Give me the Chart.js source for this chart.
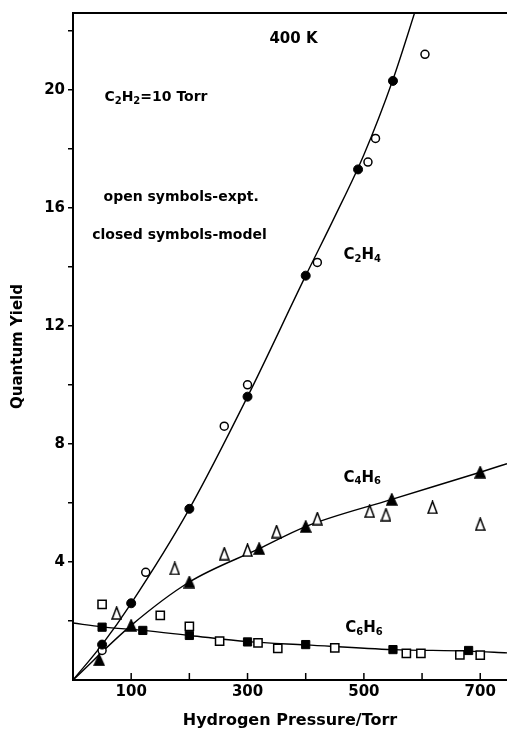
<!DOCTYPE html>
<html>
<head>
<meta charset="utf-8">
<script src="https://cdn.jsdelivr.net/npm/chart.js@4.4.1/dist/chart.umd.min.js"></script>
<style>
  html, body { margin: 0; padding: 0; background: #fff; overflow: hidden; }
  canvas { display: block; }
</style>
</head>
<body>
<canvas id="chart" width="507" height="730"></canvas>
<script>
// C2H4 - model (closed circles) and experiment (open circles)
const c2h4ModelX = [50, 100, 200, 300, 400, 490, 550];
const c2h4ModelY = [1.2, 2.6, 5.8, 9.6, 13.7, 17.3, 20.3];
const c2h4ExptX = [50, 125, 260, 300, 420, 507, 520, 605];
const c2h4ExptY = [1.0, 3.65, 8.6, 10.0, 14.15, 17.55, 18.35, 21.2];
const c2h4CurveX = [0, 50, 100, 200, 300, 400, 450, 500, 550, 592];
const c2h4CurveY = [0, 1.2, 2.6, 5.8, 9.6, 13.7, 15.7, 17.8, 20.35, 22.9];

// C4H6 - triangles
const c4h6ModelX = [45, 100, 200, 320, 400, 548, 700];
const c4h6ModelY = [0.68, 1.85, 3.32, 4.45, 5.2, 6.12, 7.04];
const c4h6ExptX = [75, 175, 260, 300, 350, 420, 510, 538, 618, 700];
const c4h6ExptY = [2.27, 3.78, 4.28, 4.4, 5.03, 5.47, 5.72, 5.6, 5.85, 5.28];
const c4h6CurveX = [0, 100, 200, 320, 400, 548, 700, 746];
const c4h6CurveY = [0, 1.85, 3.32, 4.45, 5.2, 6.12, 7.04, 7.33];

// C6H6 - squares
const c6h6ModelX = [50, 120, 200, 300, 400, 550, 680];
const c6h6ModelY = [1.79, 1.68, 1.51, 1.29, 1.2, 1.03, 1.0];
const c6h6ExptX = [50, 150, 200, 252, 318, 352, 450, 573, 598, 665, 700];
const c6h6ExptY = [2.56, 2.19, 1.82, 1.32, 1.26, 1.07, 1.09, 0.9, 0.9, 0.85, 0.84];
const c6h6CurveX = [0, 50, 120, 200, 300, 400, 550, 680, 746];
const c6h6CurveY = [1.93, 1.8, 1.68, 1.51, 1.3, 1.19, 1.03, 0.98, 0.92];

// axes
const xTickValues = [100, 200, 300, 400, 500, 600, 700];
const xLabelValues = [100, 300, 500, 700];
const yTickValues = [2, 4, 6, 8, 10, 12, 14, 16, 18, 20, 22];
const yLabelValues = [4, 8, 12, 16, 20];

const FONT = "'DejaVu Sans', sans-serif";

const toPts = (xs, ys) => xs.map((v, i) => ({ x: v, y: ys[i] }));

function triangle(w, h, filled) {
  const c = document.createElement('canvas');
  c.width = w + 2; c.height = h + 2;
  const g = c.getContext('2d');
  g.beginPath();
  g.moveTo(c.width / 2, 1);
  g.lineTo(c.width - 1, c.height - 1);
  g.lineTo(1, c.height - 1);
  g.closePath();
  g.fillStyle = filled ? '#000' : '#fff';
  g.fill();
  g.lineWidth = 1.5;
  g.strokeStyle = '#000';
  g.stroke();
  return c;
}
const openTri = triangle(9, 12, false);
const fullTri = triangle(10, 11, true);

// text written inside the plot (data coordinates, left edge)
const notes = [
  { parts: [['400 K', 0]], x: 379, y: 21.7, size: 15, align: 'center' },
  { parts: [['C', 0], ['2', 1], ['H', 0], ['2', 1], ['=10 Torr', 0]], x: 54, y: 19.75, size: 14 },
  { parts: [['open symbols-expt.', 0]], x: 52.5, y: 16.35, size: 14 },
  { parts: [['closed symbols-model', 0]], x: 33, y: 15.05, size: 14 },
  { parts: [['C', 0], ['2', 1], ['H', 0], ['4', 1]], x: 465, y: 14.4, size: 15 },
  { parts: [['C', 0], ['4', 1], ['H', 0], ['6', 1]], x: 465, y: 6.85, size: 15 },
  { parts: [['C', 0], ['6', 1], ['H', 0], ['6', 1]], x: 468, y: 1.75, size: 15 },
];

const frameAndNotes = {
  id: 'frameAndNotes',
  afterDatasetsDraw(chart) {
    const { ctx, chartArea: a, scales: { x, y } } = chart;
    ctx.save();
    ctx.strokeStyle = '#000';
    // top border
    ctx.lineWidth = 2;
    ctx.beginPath();
    ctx.moveTo(a.left, a.top);
    ctx.lineTo(a.right, a.top);
    ctx.stroke();
    // x ticks point inward
    ctx.lineWidth = 1.5;
    xTickValues.forEach(v => {
      const px = x.getPixelForValue(v);
      ctx.beginPath();
      ctx.moveTo(px, a.bottom);
      ctx.lineTo(px, a.bottom - 7);
      ctx.stroke();
    });
    // notes
    ctx.fillStyle = '#000';
    ctx.textBaseline = 'middle';
    ctx.textAlign = 'left';
    notes.forEach(n => {
      const sub = Math.round(n.size * 0.68);
      let w = 0;
      n.parts.forEach(([t, s]) => {
        ctx.font = 'bold ' + (s ? sub : n.size) + 'px ' + FONT;
        w += ctx.measureText(t).width;
      });
      let px = x.getPixelForValue(n.x);
      if (n.align === 'center') px -= w / 2;
      const py = y.getPixelForValue(n.y);
      n.parts.forEach(([t, s]) => {
        ctx.font = 'bold ' + (s ? sub : n.size) + 'px ' + FONT;
        ctx.fillText(t, px, s ? py + 4 : py);
        px += ctx.measureText(t).width;
      });
    });
    ctx.restore();
  }
};

const curve = (xs, ys) => ({
  type: 'line',
  data: toPts(xs, ys),
  borderColor: '#000',
  borderWidth: 1.4,
  pointRadius: 0,
  cubicInterpolationMode: 'monotone',
  fill: false,
  order: 3,
});

new Chart(document.getElementById('chart'), {
  type: 'scatter',
  data: {
    datasets: [
      curve(c2h4CurveX, c2h4CurveY),
      curve(c4h6CurveX, c4h6CurveY),
      curve(c6h6CurveX, c6h6CurveY),
      // experiment, open symbols
      { data: toPts(c2h4ExptX, c2h4ExptY), pointStyle: 'circle', pointRadius: 4,
        backgroundColor: '#fff', borderColor: '#000', borderWidth: 1.5, order: 2 },
      { data: toPts(c4h6ExptX, c4h6ExptY), pointStyle: openTri, order: 2 },
      { data: toPts(c6h6ExptX, c6h6ExptY), pointStyle: 'rect', pointRadius: 5.8,
        backgroundColor: '#fff', borderColor: '#000', borderWidth: 1.5, order: 2 },
      // model, closed symbols
      { data: toPts(c2h4ModelX, c2h4ModelY), pointStyle: 'circle', pointRadius: 4.5,
        backgroundColor: '#000', borderColor: '#000', borderWidth: 1, order: 1 },
      { data: toPts(c4h6ModelX, c4h6ModelY), pointStyle: fullTri, order: 1 },
      { data: toPts(c6h6ModelX, c6h6ModelY), pointStyle: 'rect', pointRadius: 5.8,
        backgroundColor: '#000', borderColor: '#000', borderWidth: 1, order: 1 },
    ]
  },
  options: {
    responsive: false,
    animation: false,
    devicePixelRatio: 1,
    layout: { autoPadding: false, padding: { top: 13, right: 0, left: 0, bottom: 0 } },
    plugins: { legend: { display: false }, tooltip: { enabled: false } },
    scales: {
      x: {
        type: 'linear',
        min: 0,
        max: 746,
        afterBuildTicks: s => { s.ticks = xTickValues.map(v => ({ value: v })); },
        afterFit: s => { s.height = 50; s.paddingLeft = 0; s.paddingRight = 0; },
        grid: { display: false, drawTicks: false },
        border: { display: true, color: '#000', width: 2 },
        ticks: {
          autoSkip: false,
          maxRotation: 0,
          padding: 3,
          color: '#000',
          font: { family: FONT, size: 15, weight: 'bold' },
          callback: v => xLabelValues.includes(v) ? String(v) : '',
        },
        title: {
          display: true,
          text: 'Hydrogen Pressure/Torr',
          color: '#000',
          font: { family: FONT, size: 16, weight: 'bold' },
          padding: { top: 0, bottom: 0 },
        },
      },
      y: {
        type: 'linear',
        min: 0,
        max: 22.6,
        afterBuildTicks: s => { s.ticks = yTickValues.map(v => ({ value: v })); },
        afterFit: s => { s.width = 73; s.paddingTop = 0; s.paddingBottom = 0; },
        grid: { drawOnChartArea: false, drawTicks: true, tickLength: 5, color: '#000', lineWidth: 1.5 },
        border: { display: true, color: '#000', width: 2 },
        ticks: {
          autoSkip: false,
          padding: 3,
          color: '#000',
          font: { family: FONT, size: 15, weight: 'bold' },
          callback: v => yLabelValues.includes(v) ? String(v) : '',
        },
        title: {
          display: true,
          text: 'Quantum Yield',
          color: '#000',
          font: { family: FONT, size: 15, weight: 'bold' },
          padding: { top: 9, bottom: 0 },
        },
      },
    },
  },
  plugins: [frameAndNotes],
});
</script>
</body>
</html>
